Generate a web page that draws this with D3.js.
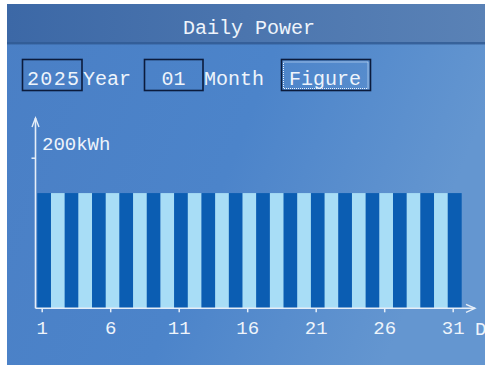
<!DOCTYPE html>
<html>
<head>
<meta charset="utf-8">
<script src="https://cdn.jsdelivr.net/npm/d3@7"></script>
<style>
  html, body { margin: 0; padding: 0; background: #ffffff; }
  svg { display: block; }
  text { font-family: "Liberation Mono", "DejaVu Sans Mono", monospace; fill: #eef4fb; }
</style>
</head>
<body>
<script>
// Daily energy for January 2025 (kWh)
const days = d3.range(1, 32);
const energy = [153, 153, 153, 153, 153, 153, 153, 153, 153, 153,
                153, 153, 153, 153, 153, 153, 153, 153, 153, 153,
                153, 153, 153, 153, 153, 153, 153, 153, 153, 153, 153];
const dayTicks = [1, 6, 11, 16, 21, 26, 31];
const yTicks = [200];
const title = "Daily Power";
const yearValue = "2025";
const monthValue = "01";

const W = 485, H = 365;
const svg = d3.select("body").append("svg").attr("width", W).attr("height", H);
const defs = svg.append("defs");

// sky background
const sky = defs.append("linearGradient").attr("id", "sky").attr("x1", 0).attr("y1", 0).attr("x2", 1).attr("y2", 0.3);
sky.append("stop").attr("offset", "0%").attr("stop-color", "#4a7fc5");
sky.append("stop").attr("offset", "55%").attr("stop-color", "#4c84ca");
sky.append("stop").attr("offset", "100%").attr("stop-color", "#6496d0");
const band = defs.append("linearGradient").attr("id", "band").attr("x1", 0).attr("y1", 0).attr("x2", 1).attr("y2", 0);
band.append("stop").attr("offset", "0%").attr("stop-color", "#3c68a6");
band.append("stop").attr("offset", "100%").attr("stop-color", "#5a82b6");

svg.append("rect").attr("x", 7).attr("y", 4).attr("width", W - 7).attr("height", H - 4).attr("fill", "url(#sky)");
svg.append("rect").attr("x", 7).attr("y", 4).attr("width", W - 7).attr("height", 40).attr("fill", "url(#band)");
svg.append("rect").attr("x", 7).attr("y", 42).attr("width", W - 7).attr("height", 2.5).attr("fill", "#305a94").attr("opacity", 0.8);

// header
svg.append("text").attr("x", 249).attr("y", 34).attr("text-anchor", "middle")
  .attr("font-size", 20).text(title);

// selector row
const boxStroke = "#0b1b3c";
svg.append("rect").attr("x", 22.5).attr("y", 59.5).attr("width", 59.5).attr("height", 31)
  .attr("fill", "none").attr("stroke", boxStroke).attr("stroke-width", 1.6);
svg.append("text").attr("x", 27).attr("y", 85).attr("font-size", 20)
  .attr("textLength", 52).text(yearValue);
svg.append("text").attr("x", 83).attr("y", 85).attr("font-size", 20).text("Year");

svg.append("rect").attr("x", 144.5).attr("y", 59.5).attr("width", 58.5).attr("height", 31)
  .attr("fill", "none").attr("stroke", boxStroke).attr("stroke-width", 1.6);
svg.append("text").attr("x", 173.5).attr("y", 85).attr("text-anchor", "middle").attr("font-size", 20).text(monthValue);
svg.append("text").attr("x", 204).attr("y", 85).attr("font-size", 20).text("Month");

svg.append("rect").attr("x", 281.5).attr("y", 59.5).attr("width", 89).attr("height", 31)
  .attr("fill", "none").attr("stroke", boxStroke).attr("stroke-width", 1.6);
svg.append("rect").attr("x", 283.5).attr("y", 62).attr("width", 84.5).attr("height", 26.5)
  .attr("fill", "none").attr("stroke", "#e8f2ff").attr("stroke-width", 1).attr("stroke-dasharray", "1,1");
svg.append("text").attr("x", 325).attr("y", 85).attr("text-anchor", "middle").attr("font-size", 20).text("Figure");

// chart scales
const x0 = 35.5, y0 = 308.3;
const x = d3.scaleBand().domain(days).range([37.3, 461.4]).padding(0);
const y = d3.scaleLinear().domain([0, 200]).range([y0, 157.7]);
const xTick = d3.scaleLinear().domain([1, 31]).range([41.7, 452.7]);

// bars
svg.append("g").selectAll("rect").data(days).join("rect")
  .attr("x", d => x(d))
  .attr("width", x.bandwidth() + 0.3)
  .attr("y", (d, i) => y(energy[i]))
  .attr("height", (d, i) => y0 - y(energy[i]))
  .attr("fill", d => d % 2 === 1 ? "#0b5db2" : "#a8ddf6");

const axisColor = "#e6eef8";

// x axis
const gx = svg.append("g").attr("transform", `translate(0,${y0})`)
  .call(d3.axisBottom(xTick).tickValues(dayTicks).tickSize(4).tickPadding(8).tickFormat(d3.format("d")));
gx.select(".domain").remove();
gx.selectAll(".tick line").attr("stroke", axisColor).attr("stroke-width", 1.5);
gx.selectAll(".tick text").attr("fill", axisColor).attr("font-size", 19)
  .attr("font-family", "Liberation Mono, DejaVu Sans Mono, monospace");
svg.append("line").attr("x1", x0).attr("x2", 475).attr("y1", y0).attr("y2", y0)
  .attr("stroke", axisColor).attr("stroke-width", 1.6);
svg.append("path").attr("d", `M466,${y0 - 4} L475,${y0} L466,${y0 + 4}`)
  .attr("fill", "none").attr("stroke", axisColor).attr("stroke-width", 1.4);
svg.append("text").attr("x", 475).attr("y", 335).attr("font-size", 19).text("D");

// y axis
const gy = svg.append("g").attr("transform", `translate(${x0},0)`)
  .call(d3.axisLeft(y).tickValues(yTicks).tickSize(4).tickFormat(""));
gy.select(".domain").remove();
gy.selectAll(".tick line").attr("stroke", axisColor).attr("stroke-width", 1.5);
svg.append("line").attr("x1", x0).attr("x2", x0).attr("y1", y0).attr("y2", 118)
  .attr("stroke", axisColor).attr("stroke-width", 1.6);
svg.append("path").attr("d", `M${x0 - 3.5},127 L${x0},118 L${x0 + 3.5},127`)
  .attr("fill", "none").attr("stroke", axisColor).attr("stroke-width", 1.4);
svg.append("text").attr("x", 42).attr("y", 150).attr("font-size", 19)
  .text(yTicks[0] + "kWh");
</script>
</body>
</html>
